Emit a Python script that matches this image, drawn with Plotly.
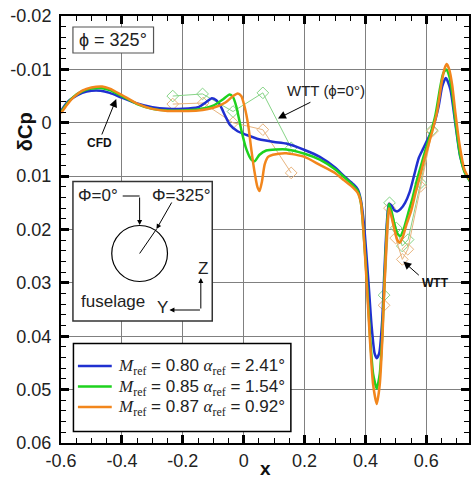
import plotly.graph_objects as go

# ---------------- data ----------------
blue_x = [-0.6, -0.58, -0.56, -0.53, -0.50, -0.47, -0.44, -0.40, -0.35, -0.30, -0.25, -0.20, -0.15, -0.12, -0.105,
          -0.09, -0.075, -0.06, -0.045, -0.02, 0.01, 0.05, 0.10, 0.14, 0.20, 0.25, 0.30, 0.33, 0.36, 0.375, 0.385,
          0.395, 0.41, 0.42, 0.43, 0.437, 0.445, 0.455, 0.462, 0.47, 0.477, 0.485, 0.495, 0.505, 0.515, 0.53, 0.545,
          0.56, 0.575, 0.59, 0.605, 0.62, 0.64, 0.652, 0.664, 0.679, 0.695, 0.711, 0.728, 0.744]
blue_y = [-0.0022, -0.0038, -0.0047, -0.0056, -0.0060, -0.0060, -0.0056, -0.0047, -0.0036, -0.0029, -0.0026, -0.0026,
          -0.0029, -0.0040, -0.0046, -0.0042, -0.0030, -0.0012, 0.0004, 0.0016, 0.0023, 0.0031, 0.0036, 0.0039, 0.0051,
          0.0064, 0.0084, 0.0100, 0.0115, 0.0125, 0.0145, 0.019, 0.030, 0.038, 0.0432, 0.0441, 0.0432, 0.037, 0.028,
          0.019, 0.0152, 0.0155, 0.0164, 0.0166, 0.0162, 0.0150, 0.0130, 0.0098, 0.0066, 0.0048, 0.0030, 0.0012,
          -0.0030, -0.0068, -0.0084, -0.0062, 0.0001, 0.0063, 0.0094, 0.0110]

green_x = [-0.6, -0.58, -0.56, -0.53, -0.50, -0.47, -0.44, -0.40, -0.35, -0.30, -0.25, -0.20, -0.15, -0.10, -0.07,
           -0.046, -0.035, -0.024, -0.008, 0.009, 0.025, 0.036, 0.052, 0.074, 0.14, 0.20, 0.25, 0.30, 0.33, 0.36,
           0.375, 0.385, 0.393, 0.405, 0.415, 0.425, 0.437, 0.447, 0.455, 0.462, 0.47, 0.477, 0.485, 0.495, 0.505,
           0.515, 0.525, 0.54, 0.555, 0.57, 0.585, 0.60, 0.615, 0.63, 0.645, 0.655, 0.665, 0.675, 0.685, 0.695,
           0.71, 0.725, 0.744]
green_y = [-0.0020, -0.0036, -0.0048, -0.0059, -0.0064, -0.0065, -0.0061, -0.0050, -0.0035, -0.0026, -0.0023,
           -0.0023, -0.0025, -0.0032, -0.0043, -0.0053, -0.0048, -0.0030, 0.0013, 0.0050, 0.0069, 0.0072, 0.0060,
           0.0052, 0.0050, 0.0058, 0.0069, 0.0087, 0.0102, 0.0118, 0.0128, 0.0150, 0.020, 0.030, 0.040, 0.047,
           0.0498, 0.047, 0.040, 0.030, 0.020, 0.0152, 0.0165, 0.0190, 0.0208, 0.0212, 0.0200, 0.0170, 0.0140,
           0.0105, 0.0075, 0.0045, 0.0018, -0.0015, -0.0065, -0.0092, -0.0100, -0.0088, -0.0055, -0.0005, 0.0058,
           0.0092, 0.0110]

orange_x = [-0.6, -0.58, -0.56, -0.53, -0.50, -0.465, -0.44, -0.40, -0.35, -0.30, -0.25, -0.20, -0.15, -0.10, -0.06,
            -0.035, -0.02, -0.008, 0.003, 0.015, 0.025, 0.035, 0.045, 0.052, 0.06, 0.069, 0.08, 0.096, 0.14, 0.20,
            0.25, 0.30, 0.33, 0.36, 0.375, 0.385, 0.393, 0.405, 0.415, 0.425, 0.437, 0.447, 0.455, 0.462, 0.47,
            0.477, 0.485, 0.495, 0.505, 0.512, 0.522, 0.535, 0.55, 0.565, 0.58, 0.595, 0.61, 0.62, 0.635, 0.65,
            0.66, 0.667, 0.675, 0.685, 0.695, 0.71, 0.725, 0.744]
orange_y = [-0.0018, -0.0034, -0.0047, -0.0060, -0.0066, -0.0068, -0.0064, -0.0052, -0.0036, -0.0026, -0.0022,
            -0.0022, -0.0023, -0.0028, -0.0038, -0.0050, -0.0055, -0.0050, -0.0030, 0.0005, 0.0050, 0.0090, 0.0120,
            0.0128, 0.0110, 0.0078, 0.0064, 0.0060, 0.0057, 0.0064, 0.0079, 0.0094, 0.0108, 0.0122, 0.0132, 0.0150,
            0.020, 0.031, 0.041, 0.049, 0.0527, 0.049, 0.041, 0.031, 0.021, 0.0160, 0.0175, 0.0200, 0.0220, 0.0225,
            0.0215, 0.0190, 0.0165, 0.0130, 0.0098, 0.0065, 0.0035, 0.0015, -0.0020, -0.0075, -0.0102, -0.0110,
            -0.0100, -0.0070, -0.0020, 0.0045, 0.0088, 0.0108]

wtt_green_x = [-0.233, -0.135, -0.035, 0.063, 0.156, None, 0.461, 0.479, 0.501, 0.521, 0.540, 0.581, 0.619]
wtt_green_y = [-0.0050, -0.0054, -0.0021, -0.0056, 0.0047, None, 0.0323, 0.0150, 0.0197, 0.0231, 0.0219, 0.0113, 0.0014]
wtt_orange_x = [-0.233, -0.133, -0.035, 0.063, 0.156, None, 0.461, 0.479, 0.499, 0.521, 0.539, 0.581, 0.619]
wtt_orange_y = [-0.0035, -0.0037, 0.0000, 0.0013, 0.0094, None, 0.0342, 0.0160, 0.0216, 0.0256, 0.0237, 0.0119, 0.0016]

series_labels = ["0.80", "0.85", "0.87"]
alpha_labels = ["2.41", "1.54", "0.92"]
x_ticks = [-0.6, -0.4, -0.2, 0.0, 0.2, 0.4, 0.6]
x_ticktext = ["-0.6", "-0.4", "-0.2", "0", "0.2", "0.4", "0.6"]
y_ticks = [-0.02, -0.01, 0.0, 0.01, 0.02, 0.03, 0.04, 0.05, 0.06]
y_ticktext = ["-0.02", "-0.01", "0", "0.01", "0.02", "0.03", "0.04", "0.05", "0.06"]

# ---------------- styles ----------------
BLUE = "#2030d0"
GREEN = "#1ed21e"
ORANGE = "#f2861c"
WG = "#86d486"
WO = "#e8b47e"
SANS = "Liberation Sans, Arial, sans-serif"
SERIF = "Liberation Serif, Times New Roman, serif"

W, H = 472, 479
L, R, T, B = 61, 1, 16, 36
PW, PH = W - L - R, H - T - B


def px(p):
    return (p - L) / PW


def py(p):
    return (H - B - p) / PH


def label(x0, y0, text, size=17, color="#222", xanchor="center", **kw):
    return dict(xref="paper", yref="paper", x=px(x0), y=py(y0), text=text, showarrow=False,
                xanchor=xanchor, yanchor="middle", font=dict(family=SANS, size=size, color=color), **kw)


def arrow(x0, y0, ax, ay, size=1.0):
    return dict(xref="paper", yref="paper", x=px(x0), y=py(y0), text="", showarrow=True, ax=ax, ay=ay,
                arrowhead=2, arrowsize=size, arrowwidth=1, arrowcolor="black")


fig = go.Figure()
fig.add_trace(go.Scatter(x=wtt_green_x, y=wtt_green_y, mode="lines+markers",
                         line=dict(color=WG, width=1),
                         marker=dict(symbol="diamond-open", size=9, color=WG, line=dict(width=1)),
                         connectgaps=False, showlegend=False))
fig.add_trace(go.Scatter(x=wtt_orange_x, y=wtt_orange_y, mode="lines+markers",
                         line=dict(color=WO, width=1),
                         marker=dict(symbol="diamond-open", size=9, color=WO, line=dict(width=1)),
                         connectgaps=False, showlegend=False))
for xs, ys, c in [(blue_x, blue_y, BLUE), (green_x, green_y, GREEN), (orange_x, orange_y, ORANGE)]:
    fig.add_trace(go.Scatter(x=xs, y=ys, mode="lines", line=dict(color=c, width=2.5, shape="spline", smoothing=0.6),
                             showlegend=False))

shapes = []
ann = []

# phi box
shapes.append(dict(type="rect", xref="paper", yref="paper", x0=px(73), x1=px(154), y0=py(53), y1=py(27),
                   line=dict(color="#555", width=1.2), fillcolor="white", layer="above"))
ann.append(label(113.5, 40, "ϕ = 325°", size=18))

# inset box
shapes.append(dict(type="rect", xref="paper", yref="paper", x0=px(73), x1=px(213), y0=py(321), y1=py(181.5),
                   line=dict(color="#333", width=1.5), fillcolor="white", layer="above"))
shapes.append(dict(type="circle", xref="paper", yref="paper", x0=px(112), x1=px(168), y0=py(281.5), y1=py(225.5),
                   line=dict(color="black", width=1.2), layer="above"))
shapes.append(dict(type="line", xref="paper", yref="paper", x0=px(140), x1=px(157), y0=py(253.5), y1=py(229),
                   line=dict(color="black", width=1), layer="above"))
shapes.append(dict(type="line", xref="paper", yref="paper", x0=px(123), x1=px(140), y0=py(196), y1=py(196),
                   line=dict(color="black", width=1), layer="above"))
ann.append(arrow(140, 225, 0, -29))
ann.append(arrow(157, 229, 16, -28))
ann.append(arrow(201.5, 278, 0, 32))
ann.append(arrow(170, 310, 32, 0))
for t, x0, y0 in [("Φ=0°", 98, 195), ("Φ=325°", 182, 195), ("fuselage", 113, 301), ("Z", 203.5, 268),
                  ("Y", 163, 307)]:
    ann.append(label(x0, y0, t, size=17))

# legend box
shapes.append(dict(type="rect", xref="paper", yref="paper", x0=px(73.5), x1=px(292), y0=py(431.5), y1=py(343.5),
                   line=dict(color="black", width=1.5), fillcolor="white", layer="above"))
for i, (c, m, a) in enumerate(zip([BLUE, GREEN, ORANGE], series_labels, alpha_labels)):
    yy = 366 + 20.5 * i
    shapes.append(dict(type="line", xref="paper", yref="paper", x0=px(78), x1=px(112), y0=py(yy), y1=py(yy),
                       line=dict(color=c, width=2.5), layer="above"))
    txt = (f"<i style='font-family:{SERIF}'>M</i><sub style='font-family:{SERIF}'>ref</sub> = {m} "
           f"<i style='font-family:{SERIF}'>α</i><sub style='font-family:{SERIF}'>ref</sub> = {a}°")
    ann.append(label(116, yy + 1, txt, size=17, xanchor="left"))

# arrows with labels
ann.append(label(100, 143, "<b>CFD</b>", size=12, color="#111"))
ann.append(arrow(116.5, 99, -15, 37, 1.6))
ann.append(label(327, 91, "WTT (ϕ=0°)", size=15))
ann.append(arrow(279, 118.5, 34, -17, 1.6))
ann.append(label(437, 283, "<b>WTT</b>", size=12, color="#111"))
ann.append(arrow(405, 261.5, 17, 15, 1.6))

# axis titles
ann.append(label(25, 132, "<b>δCp</b>", size=20, color="#111", textangle=-90))
ann.append(label(266, 468, "<b>x</b>", size=19, color="#111"))

axis_common = dict(showline=True, linecolor="black", linewidth=2, mirror="ticks", ticks="inside",
                   ticklen=8, tickwidth=2.5, tickcolor="black", showgrid=True, gridcolor="#808080",
                   gridwidth=1.2, zeroline=False, tickfont=dict(family=SANS, size=18, color="#222"))

fig.update_layout(
    width=W, height=H, margin=dict(l=L, r=R, t=T, b=B),
    plot_bgcolor="white", paper_bgcolor="white",
    xaxis=dict(range=[-0.6, 0.74], tickvals=x_ticks, ticktext=x_ticktext,
               minor=dict(ticks="inside", ticklen=5, tickwidth=1, tickcolor="black", dtick=0.05, tick0=-0.6,
                          showgrid=False), **axis_common),
    yaxis=dict(range=[0.06, -0.02], tickvals=y_ticks, ticktext=y_ticktext, ticklabelstandoff=4,
               minor=dict(ticks="inside", ticklen=5, tickwidth=1, tickcolor="black", dtick=0.002, tick0=0,
                          showgrid=False), **axis_common),
    shapes=shapes, annotations=ann, showlegend=False,
)

fig.write_html("out.html")
